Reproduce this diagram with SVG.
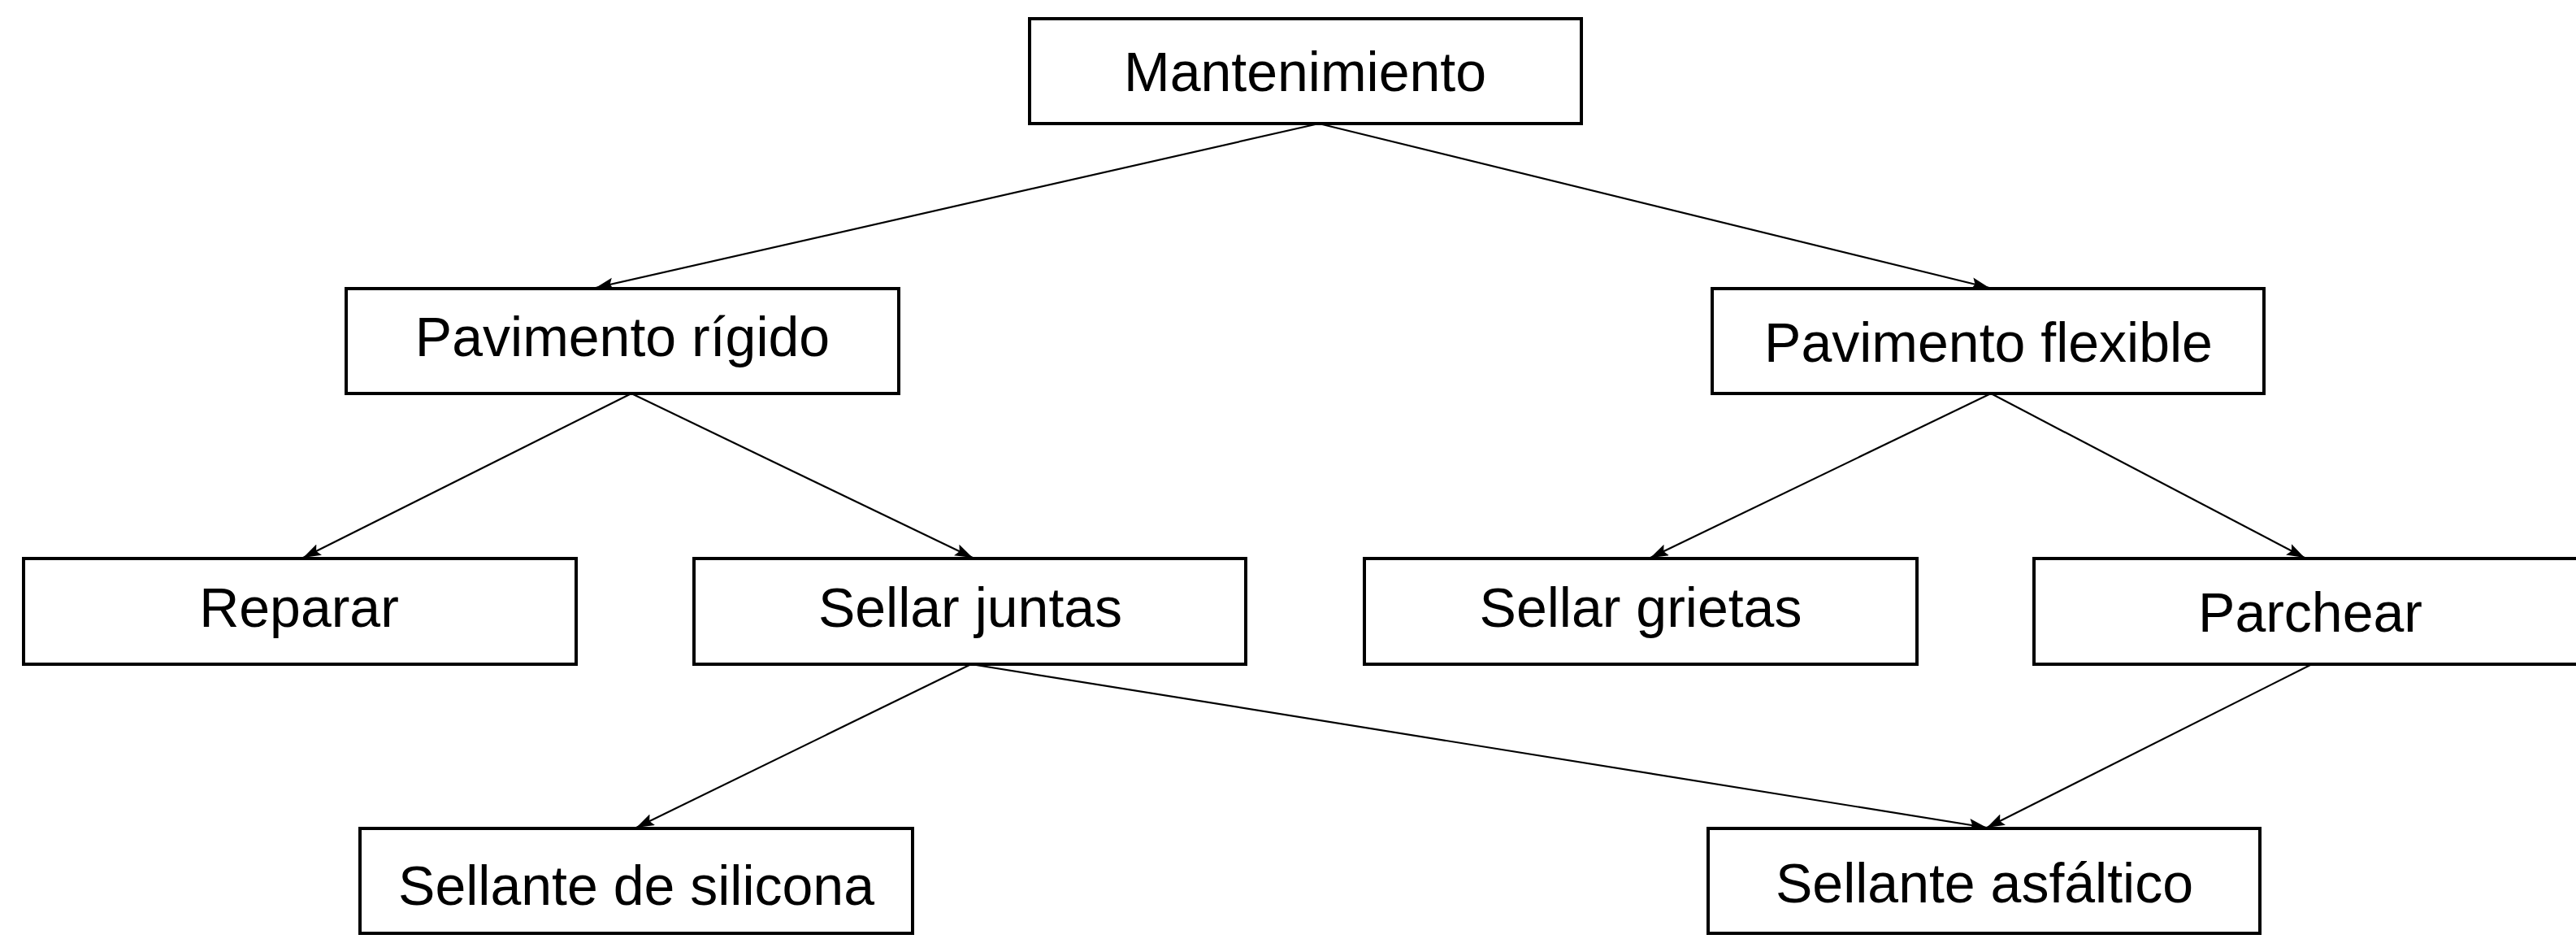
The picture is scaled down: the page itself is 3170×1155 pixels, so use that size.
<svg xmlns="http://www.w3.org/2000/svg" width="3170" height="1155" viewBox="0 0 3170 1155">
<style>
.box{fill:#fff;stroke:#000;stroke-width:4}
.lbl{font-family:"Liberation Sans",Arial,sans-serif;font-size:68px;fill:#000;text-anchor:middle}
.edge{stroke:#000;stroke-width:2.2;fill:none;marker-end:url(#ah)}
</style>
<defs>
<marker id="ah" markerUnits="userSpaceOnUse" markerWidth="24" markerHeight="16" refX="22" refY="7.5" orient="auto">
<path d="M0,0 L22,7.5 L0,15 L4,7.5 z" fill="#000"/>
</marker>
</defs>
<rect width="3170" height="1155" fill="#fff"/>
<g id="connectors">
<line class="edge" x1="1623" y1="152" x2="733" y2="354"/>
<line class="edge" x1="1623" y1="152" x2="2448" y2="354"/>
<line class="edge" x1="777" y1="484" x2="373" y2="686"/>
<line class="edge" x1="777" y1="484" x2="1197" y2="686"/>
<line class="edge" x1="2450" y1="484" x2="2031" y2="686"/>
<line class="edge" x1="2450" y1="484" x2="2836" y2="686"/>
<line class="edge" x1="1195" y1="817" x2="783" y2="1018"/>
<line class="edge" x1="1195" y1="817" x2="2445" y2="1018"/>
<line class="edge" x1="2845" y1="817" x2="2445" y2="1018"/>
</g>
<g id="n-mantenimiento"><rect class="box" x="1267" y="23" width="679" height="129"/><text class="lbl" x="1606" y="112">Mantenimiento</text></g>
<g id="n-rigido"><rect class="box" x="426" y="355" width="680" height="129"/><text class="lbl" x="766" y="438">Pavimento rígido</text></g>
<g id="n-flexible"><rect class="box" x="2107" y="355" width="679" height="129"/><text class="lbl" x="2447" y="445">Pavimento flexible</text></g>
<g id="n-reparar"><rect class="box" x="29" y="687" width="680" height="130"/><text class="lbl" x="368" y="771">Reparar</text></g>
<g id="n-juntas"><rect class="box" x="854" y="687" width="679" height="130"/><text class="lbl" x="1194" y="771">Sellar juntas</text></g>
<g id="n-grietas"><rect class="box" x="1679" y="687" width="680" height="130"/><text class="lbl" x="2019" y="771">Sellar grietas</text></g>
<g id="n-parchear"><rect class="box" x="2503" y="687" width="680" height="130"/><text class="lbl" x="2843" y="777">Parchear</text></g>
<g id="n-silicona"><rect class="box" x="443" y="1019" width="680" height="129"/><text class="lbl" x="783" y="1113">Sellante de silicona</text></g>
<g id="n-asfaltico"><rect class="box" x="2102" y="1019" width="679" height="129"/><text class="lbl" x="2442" y="1110">Sellante asfáltico</text></g>
</svg>
